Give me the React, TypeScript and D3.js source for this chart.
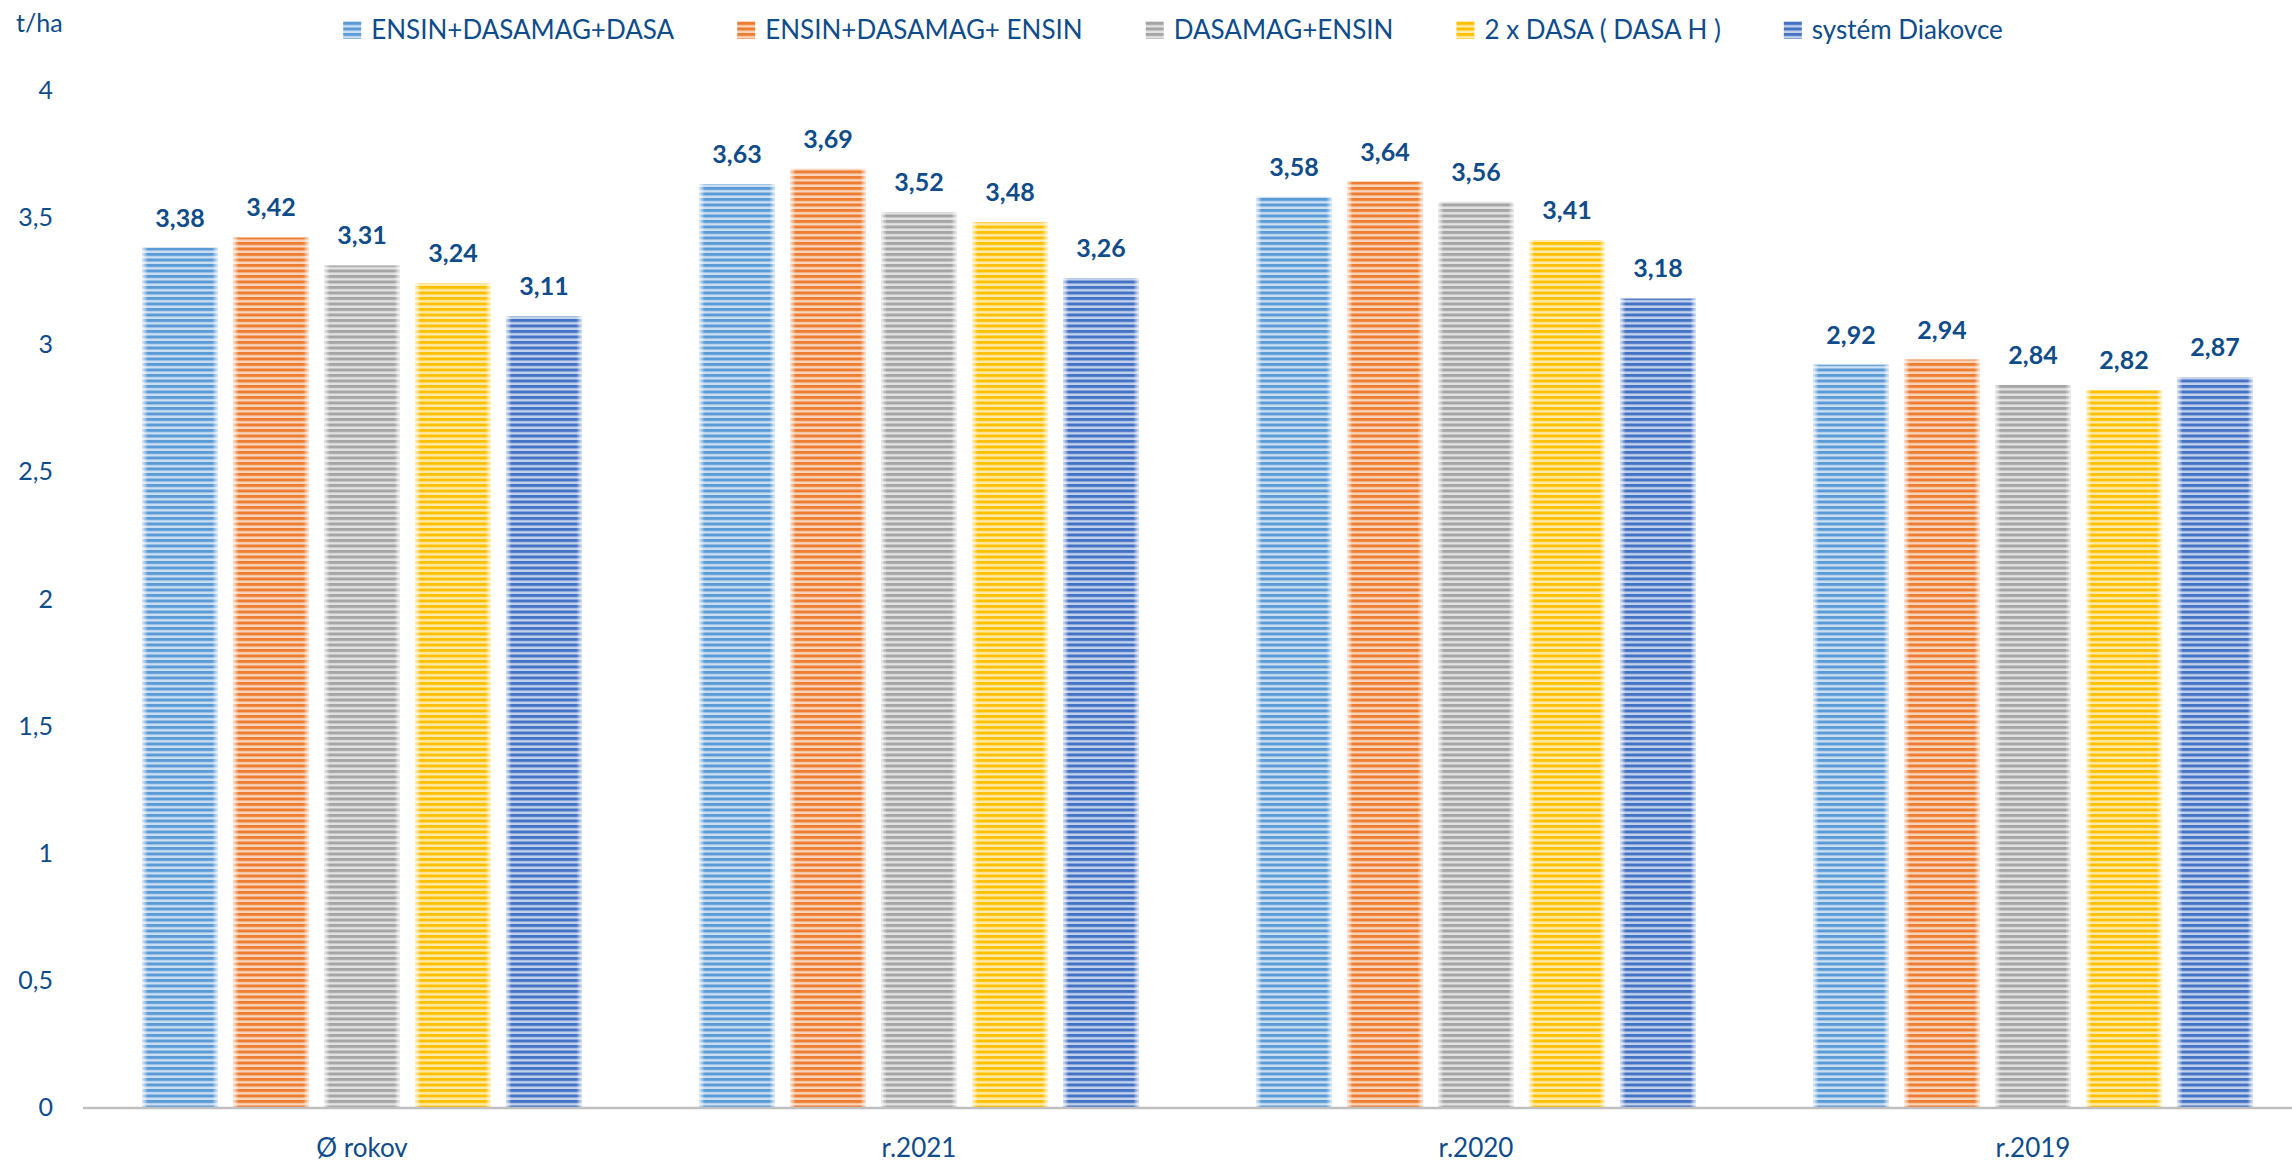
import React, { useEffect, useRef } from "react";
import * as d3 from "d3";

const categories = ["Ø rokov", "r.2021", "r.2020", "r.2019"];
const seriesNames = [
  "ENSIN+DASAMAG+DASA",
  "ENSIN+DASAMAG+ ENSIN",
  "DASAMAG+ENSIN",
  "2 x DASA ( DASA H )",
  "systém Diakovce",
];
const seriesColors = ["#5b9bd5", "#ed7d31", "#a5a5a5", "#ffc000", "#4472c4"];
const s1 = [3.38, 3.63, 3.58, 2.92];
const s2 = [3.42, 3.69, 3.64, 2.94];
const s3 = [3.31, 3.52, 3.56, 2.84];
const s4 = [3.24, 3.48, 3.41, 2.82];
const s5 = [3.11, 3.26, 3.18, 2.87];
const seriesValues = [s1, s2, s3, s4, s5];
const yTicks = [0, 0.5, 1, 1.5, 2, 2.5, 3, 3.5, 4];

const W = 2292;
const H = 1163;
const TEXT = "#0f4c8a";
const FONT = "Lato, 'Open Sans', sans-serif";
const fmt = (v: number) => String(v).replace(".", ",");

export default function App() {
  const ref = useRef<SVGSVGElement | null>(null);

  useEffect(() => {
    const svg = d3.select(ref.current);
    svg.selectAll("*").remove();

    const defs = svg.append("defs");
    seriesColors.forEach((c, i) => {
      const light = d3.interpolateRgb(c, "#ffffff")(0.68);
      const p = defs
        .append("pattern")
        .attr("id", `stripe${i}`)
        .attr("patternUnits", "userSpaceOnUse")
        .attr("width", 10)
        .attr("height", 5.5);
      p.append("rect").attr("width", 10).attr("height", 5.5).attr("fill", light);
      p.append("rect").attr("width", 10).attr("height", 3).attr("fill", c);
    });
    const g = defs
      .append("linearGradient")
      .attr("id", "edgeGlow")
      .attr("x1", 0)
      .attr("x2", 1)
      .attr("y1", 0)
      .attr("y2", 0);
    [
      [0, 0.75],
      [0.07, 0],
      [0.93, 0],
      [1, 0.75],
    ].forEach(([o, a]) =>
      g.append("stop").attr("offset", o).attr("stop-color", "#fff").attr("stop-opacity", a)
    );

    const y = d3.scaleLinear().domain([0, 4]).range([1107, 90]);
    const x0 = d3
      .scaleBand<string>()
      .domain(categories)
      .range([83.5, 2311.5])
      .paddingInner(0.212)
      .paddingOuter(0.106);
    const x1 = d3
      .scaleBand<string>()
      .domain(seriesNames)
      .range([0, x0.bandwidth()])
      .paddingInner(0.176)
      .paddingOuter(0);

    // y tick labels
    svg
      .append("g")
      .selectAll("text")
      .data(yTicks)
      .join("text")
      .attr("x", 53)
      .attr("y", (d) => y(d))
      .attr("dy", "0.36em")
      .attr("text-anchor", "end")
      .attr("font-family", FONT)
      .attr("font-size", 25)
      .attr("fill", TEXT)
      .text((d) => fmt(d));

    svg
      .append("text")
      .attr("x", 16)
      .attr("y", 32)
      .attr("font-family", FONT)
      .attr("font-size", 25)
      .attr("fill", TEXT)
      .text("t/ha");

    // bars
    seriesNames.forEach((name, si) => {
      const grp = svg.append("g");
      const data = categories.map((c, ci) => ({ c, v: seriesValues[si][ci] }));
      grp
        .selectAll("rect.bar")
        .data(data)
        .join("rect")
        .attr("class", "bar")
        .attr("x", (d) => (x0(d.c) as number) + (x1(name) as number))
        .attr("y", (d) => y(d.v))
        .attr("width", x1.bandwidth())
        .attr("height", (d) => y(0) - y(d.v))
        .attr("fill", `url(#stripe${si})`);
      grp
        .selectAll("rect.glow")
        .data(data)
        .join("rect")
        .attr("class", "glow")
        .attr("x", (d) => (x0(d.c) as number) + (x1(name) as number))
        .attr("y", (d) => y(d.v))
        .attr("width", x1.bandwidth())
        .attr("height", (d) => y(0) - y(d.v))
        .attr("fill", "url(#edgeGlow)");
      grp
        .selectAll("text")
        .data(data)
        .join("text")
        .attr("x", (d) => (x0(d.c) as number) + (x1(name) as number) + x1.bandwidth() / 2)
        .attr("y", (d) => y(d.v) - 21)
        .attr("text-anchor", "middle")
        .attr("font-family", FONT)
        .attr("font-weight", "bold")
        .attr("font-size", 25)
        .attr("fill", TEXT)
        .text((d) => fmt(d.v));
    });

    // x axis line
    svg
      .append("line")
      .attr("x1", 83)
      .attr("x2", W)
      .attr("y1", y(0) + 1)
      .attr("y2", y(0) + 1)
      .attr("stroke", "#bfbfbf")
      .attr("stroke-width", 2.5);

    // category labels
    svg
      .append("g")
      .selectAll("text")
      .data(categories)
      .join("text")
      .attr("x", (d) => (x0(d) as number) + x0.bandwidth() / 2)
      .attr("y", 1157)
      .attr("text-anchor", "middle")
      .attr("font-family", FONT)
      .attr("font-size", 26)
      .attr("fill", TEXT)
      .text((d) => d);

    // legend
    const leg = svg.append("g");
    const items = seriesNames.map((n, i) => {
      const it = leg.append("g");
      it.append("rect")
        .attr("x", 0)
        .attr("y", 21)
        .attr("width", 18)
        .attr("height", 18)
        .attr("fill", `url(#stripe${i})`);
      const t = it
        .append("text")
        .attr("x", 28)
        .attr("y", 39)
        .attr("font-family", FONT)
        .attr("font-size", 26)
        .attr("fill", TEXT)
        .text(n);
      const w = (t.node() as SVGTextElement).getComputedTextLength();
      return { it, w: 28 + w };
    });
    const gap = 63;
    const total = d3.sum(items, (d) => d.w) + gap * (items.length - 1);
    let cx = 1173 - total / 2;
    items.forEach((d) => {
      d.it.attr("transform", `translate(${cx},0)`);
      cx += d.w + gap;
    });
  }, []);

  return (
    <>
      <style>{"body{margin:0;background:#fff}"}</style>
      <svg ref={ref} width={W} height={H} style={{ display: "block" }} />
    </>
  );
}
